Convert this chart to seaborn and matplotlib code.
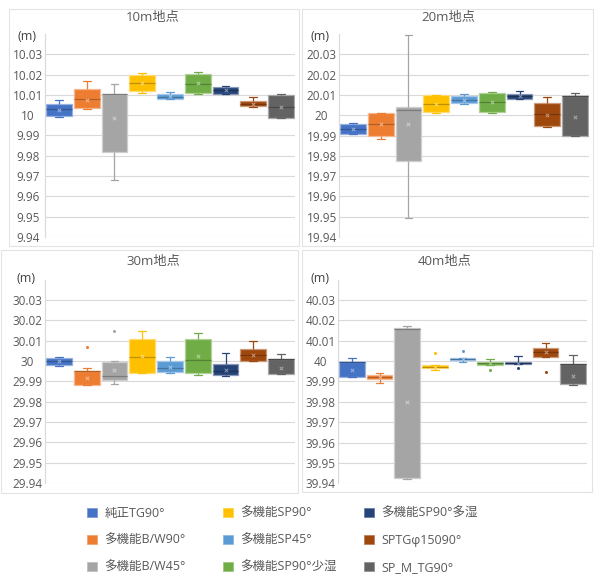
import matplotlib
matplotlib.use("Agg")
import matplotlib.pyplot as plt
import matplotlib.colors as mcolors
from matplotlib.patches import Patch, Rectangle
import numpy as np
import pandas as pd
import seaborn as sns

# ---------------------------------------------------------------- data
series = ["純正TG90°", "多機能B/W90°", "多機能B/W45°", "多機能SP90°", "多機能SP45°",
          "多機能SP90°少湿", "多機能SP90°多湿", "SPTGφ15090°", "SP_M_TG90°"]
colors = ["#4472C4", "#ED7D31", "#A5A5A5", "#FFC000", "#5B9BD5",
          "#70AD47", "#264478", "#9E480E", "#636363"]

sites = ["10m地点", "20m地点", "30m地点", "40m地点"]
site_base = [10, 20, 30, 40]

# five-number summaries (min, Q1, median, Q3, max) and means, per point
lo_10 = [9.9993, 10.0031, 9.9679, 10.0110, 10.0080, 10.0106, 10.0102, 10.0041, 9.9985]
q1_10 = [9.9997, 10.0034, 9.9821, 10.0121, 10.0082, 10.0110, 10.0103, 10.0046, 9.9985]
med_10 = [10.0030, 10.0079, 10.0105, 10.0160, 10.0092, 10.0154, 10.0124, 10.0057, 10.0042]
q3_10 = [10.0057, 10.0128, 10.0105, 10.0198, 10.0106, 10.0202, 10.0138, 10.0070, 10.0101]
hi_10 = [10.0075, 10.0170, 10.0154, 10.0207, 10.0116, 10.0212, 10.0144, 10.0089, 10.0106]
mean_10 = [10.0028, 10.0077, 9.9985, 10.0157, 10.0094, 10.0157, 10.0122, 10.0057, 10.0042]
out_s_10 = []
out_v_10 = []

lo_20 = [19.9905, 19.9883, 19.9493, 20.0012, 20.0057, 20.0010, 20.0080, 19.9941, 19.9898]
q1_20 = [19.9908, 19.9900, 19.9772, 20.0015, 20.0059, 20.0016, 20.0082, 19.9946, 19.9898]
med_20 = [19.9931, 19.9959, 20.0028, 20.0056, 20.0077, 20.0067, 20.0095, 20.0005, 20.0093]
q3_20 = [19.9956, 20.0011, 20.0042, 20.0098, 20.0095, 20.0111, 20.0106, 20.0062, 20.0095]
hi_20 = [19.9964, 20.0011, 20.0395, 20.0098, 20.0105, 20.0115, 20.0120, 20.0089, 20.0108]
mean_20 = [19.9930, 19.9957, 19.9956, 20.0056, 20.0077, 20.0067, 20.0095, 20.0003, 19.9990]
out_s_20 = []
out_v_20 = []

lo_30 = [29.9975, 29.9880, 29.9885, 29.9939, 29.9939, 29.9931, 29.9925, 30.0000, 29.9936]
q1_30 = [29.9980, 29.9880, 29.9907, 29.9939, 29.9946, 29.9939, 29.9929, 30.0000, 29.9936]
med_30 = [29.9998, 29.9949, 29.9928, 30.0018, 29.9967, 30.0006, 29.9952, 30.0031, 30.0011]
q3_30 = [30.0013, 29.9949, 29.9993, 30.0108, 29.9998, 30.0108, 29.9983, 30.0060, 30.0011]
hi_30 = [30.0018, 29.9966, 29.9998, 30.0149, 30.0020, 30.0138, 30.0037, 30.0096, 30.0034]
mean_30 = [29.9998, 29.9916, 29.9957, 30.0026, 29.9969, 30.0024, 29.9955, 30.0031, 29.9964]
out_s_30 = ["多機能B/W90°", "多機能B/W45°"]
out_v_30 = [30.0070, 30.0149]

lo_40 = [39.9920, 39.9893, 39.9421, 39.9957, 39.9995, 39.9982, 39.9984, 40.0020, 39.9882]
q1_40 = [39.9923, 39.9910, 39.9428, 39.9964, 40.0005, 39.9982, 39.9984, 40.0020, 39.9887]
med_40 = [39.9994, 39.9921, 40.0157, 39.9972, 40.0010, 39.9989, 39.9989, 40.0043, 39.9984]
q3_40 = [39.9994, 39.9931, 40.0161, 39.9979, 40.0015, 39.9994, 39.9994, 40.0064, 39.9984]
hi_40 = [40.0013, 39.9940, 40.0174, 39.9979, 40.0017, 40.0011, 40.0025, 40.0090, 40.0028]
mean_40 = [39.9958, 39.9921, 39.9800, 39.9972, 40.0010, 39.9989, 39.9989, 40.0043, 39.9928]
out_s_40 = ["多機能SP90°", "多機能SP45°", "多機能SP90°少湿", "多機能SP90°多湿", "SPTGφ15090°"]
out_v_40 = [40.0041, 40.0049, 39.9954, 39.9967, 39.9944]

stats = [
    (lo_10, q1_10, med_10, q3_10, hi_10, mean_10, out_s_10, out_v_10),
    (lo_20, q1_20, med_20, q3_20, hi_20, mean_20, out_s_20, out_v_20),
    (lo_30, q1_30, med_30, q3_30, hi_30, mean_30, out_s_30, out_v_30),
    (lo_40, q1_40, med_40, q3_40, hi_40, mean_40, out_s_40, out_v_40),
]

# ---------------------------------------------------------------- style
sns.set_style("white")
plt.rcParams["font.family"] = ["Open Sans", "Noto Sans CJK JP", "DejaVu Sans"]
TEXT = "#595959"
GRID = "#d9d9d9"


def mix(c, other, t):
    a = np.array(mcolors.to_rgb(c))
    b = np.array(mcolors.to_rgb(other))
    return tuple((1 - t) * a + t * b)


W, H = 595, 575
fig = plt.figure(figsize=(W / 100, H / 100), dpi=100)

# chart frames (pixel boxes: left, top, right, bottom)
frames = [(9, 9, 299, 246), (302, 9, 593, 246), (1, 250, 298, 493), (302, 250, 592, 492)]
for l, t, r, b in frames:
    fig.patches.append(Rectangle((l / W, 1 - b / H), (r - l) / W, (b - t) / H,
                                 transform=fig.transFigure, fill=False,
                                 edgecolor="#e3e3e3", linewidth=0.8))

# plot areas (pixel boxes: left, top, right, bottom)
areas = [(45, 34, 295, 237), (339, 34, 589, 237), (45, 279.5, 295, 483), (338, 279.5, 587, 483.3)]
titles_xy = [(153, 17), (448, 17), (153, 262), (445, 262)]
unit_xy = [(27, 36), (320, 36), (26, 279), (320, 279)]

for k, (l, t, r, b) in enumerate(areas):
    ax = fig.add_axes([l / W, 1 - b / H, (r - l) / W, (b - t) / H])
    lo, q1, med, q3, hi, mean, out_s, out_v = stats[k]

    for i, name in enumerate(series):
        c = colors[i]
        box = pd.DataFrame({"series": name, "value": [lo[i], q1[i], med[i], q3[i], hi[i]]})
        sns.boxplot(data=box, x="series", y="value", order=series, color=c,
                    saturation=1, width=0.93, whis=(0, 100), showfliers=False,
                    linecolor=c, linewidth=0.9, capwidths=0.28,
                    boxprops={"edgecolor": mix(c, "white", 0.45)},
                    medianprops={"color": mix(c, "black", 0.25), "linewidth": 0.9},
                    ax=ax)
        sns.stripplot(x=[name], y=[mean[i]], order=series, color=mix(c, "white", 0.45),
                      marker="x", size=2.5, linewidth=0.7, jitter=False, ax=ax)

    for name, v in zip(out_s, out_v):
        i = series.index(name)
        sns.stripplot(x=[name], y=[v], order=series, color=colors[i],
                      size=2.2, linewidth=0, jitter=False, ax=ax)

    base = site_base[k]
    ticks = [round(base + d / 100, 2) for d in range(-6, 4)]
    ax.set_ylim(base - 0.06, base + 0.04)
    ax.set_yticks(ticks)
    ax.set_yticklabels([f"{v:g}" for v in ticks], ha="center")
    ax.tick_params(axis="y", length=0, pad=12.5, labelsize=8.5, labelcolor=TEXT)
    ax.set_xlim(-0.5, len(series) - 0.5)
    ax.set_xticks([])
    ax.set_xlabel("")
    ax.set_ylabel("")
    ax.grid(axis="y", color=GRID, linewidth=0.8)
    ax.set_axisbelow(True)
    for side in ("top", "right", "bottom"):
        ax.spines[side].set_visible(False)
    ax.spines["left"].set_color(GRID)
    ax.spines["left"].set_linewidth(0.8)

    tx, ty = titles_xy[k]
    fig.text(tx / W, 1 - ty / H, sites[k], ha="center", va="center",
             fontsize=9.5, color=TEXT)
    ux, uy = unit_xy[k]
    fig.text(ux / W, 1 - uy / H, "(m)", ha="center", va="center",
             fontsize=9, color="#404040")

# legend in three columns
col_x = [87, 223, 364]
for c0, x0 in enumerate(col_x):
    idx = range(c0 * 3, c0 * 3 + 3)
    handles = [Patch(facecolor=colors[i], edgecolor=mix(colors[i], "white", 0.3),
                     linewidth=0.6) for i in idx]
    labels = [series[i] for i in idx]
    fig.legend(handles, labels, loc="upper left",
               bbox_to_anchor=(x0 / W, 1 - 507 / H), frameon=False,
               fontsize=9, labelcolor=TEXT, handlelength=0.8, handleheight=0.8,
               handletextpad=0.6, labelspacing=1.12, borderpad=0, borderaxespad=0)

fig.savefig("out.png", dpi=100)
